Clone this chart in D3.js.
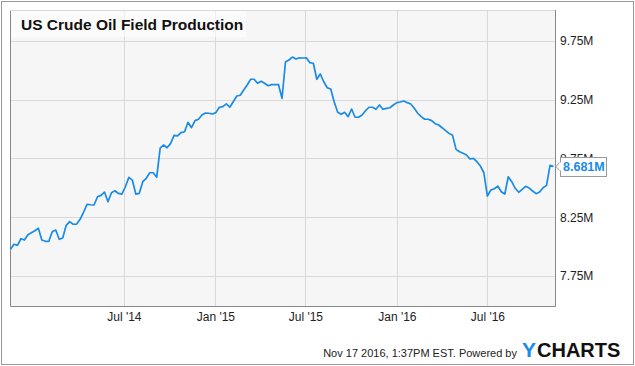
<!DOCTYPE html>
<html>
<head>
<meta charset="utf-8">
<script src="https://d3js.org/d3.v7.min.js"></script>
<style>
  body { margin: 0; background: #fff; }
  svg text { font-family: "Liberation Sans", Arial, sans-serif; }
</style>
</head>
<body>
<div id="chart"></div>
<script>

// weekly US crude oil field production (million barrels/day), week ending Fridays
var startDate = "2013-11-15";
var values = [
  7.977, 8.020, 8.011, 8.067, 8.056, 8.101, 8.118, 8.135, 8.156, 8.056,
  8.045, 8.045, 8.127, 8.141, 8.062, 8.073, 8.181, 8.212, 8.190, 8.192,
  8.232, 8.294, 8.360, 8.356, 8.354, 8.424, 8.436, 8.464, 8.382, 8.458,
  8.475, 8.452, 8.447, 8.509, 8.589, 8.566, 8.447, 8.453, 8.552, 8.581,
  8.628, 8.628, 8.589, 8.838, 8.864, 8.841, 8.878, 8.946, 8.941, 8.969,
  8.977, 9.057, 9.011, 9.071, 9.083, 9.119, 9.136, 9.134, 9.128, 9.139,
  9.185, 9.190, 9.214, 9.185, 9.232, 9.281, 9.287, 9.332, 9.374, 9.423,
  9.423, 9.389, 9.406, 9.389, 9.368, 9.377, 9.377, 9.377, 9.261, 9.570,
  9.587, 9.612, 9.595, 9.606, 9.604, 9.606, 9.564, 9.559, 9.423, 9.468,
  9.402, 9.351, 9.340, 9.230, 9.142, 9.125, 9.142, 9.105, 9.170, 9.100,
  9.100, 9.119, 9.156, 9.185, 9.185, 9.168, 9.204, 9.168, 9.176, 9.181,
  9.204, 9.224, 9.230, 9.238, 9.224, 9.213, 9.176, 9.134, 9.105, 9.083,
  9.083, 9.071, 9.045, 9.034, 9.011, 8.986, 8.963, 8.946, 8.827, 8.807,
  8.793, 8.779, 8.745, 8.751, 8.722, 8.685, 8.628, 8.430, 8.481, 8.492,
  8.515, 8.467, 8.447, 8.594, 8.552, 8.496, 8.462, 8.487, 8.513, 8.498,
  8.473, 8.450, 8.464, 8.501, 8.521, 8.691, 8.681
];
var yTicks = [7.75, 8.25, 8.75, 9.25, 9.75];
var xTicks = ["2014-07-01", "2015-01-01", "2015-07-01", "2016-01-01", "2016-07-01"];
var xDomain = ["2013-11-14", "2016-11-14"];
var title = "US Crude Oil Field Production";
var footer = "Nov 17 2016, 1:37PM EST.  Powered by";

var W = 635, H = 366;
var plot = {left: 10, top: 10, right: 555, bottom: 306};
var blue = "#1a8be6";

var parse = d3.timeParse("%Y-%m-%d");
var start = parse(startDate);
var data = values.map(function(v, i) {
  return {date: d3.timeDay.offset(start, 7 * i), value: v};
});

var svg = d3.select("#chart").append("svg")
  .attr("width", W)
  .attr("height", H);

// outer frame
svg.append("rect")
  .attr("x", 1.5).attr("y", 1.5)
  .attr("width", W - 3).attr("height", H - 3)
  .attr("fill", "#fff")
  .attr("stroke", "#999");

var x = d3.scaleTime()
  .domain(xDomain.map(parse))
  .range([plot.left, plot.right]);

var y = d3.scaleLinear()
  .domain([7.495, 10.012])
  .range([plot.bottom, plot.top]);

// plot background
svg.append("rect")
  .attr("x", plot.left).attr("y", plot.top)
  .attr("width", plot.right - plot.left)
  .attr("height", plot.bottom - plot.top)
  .attr("fill", "#f6f6f6");

// grid
svg.append("g").selectAll("line")
  .data(yTicks)
  .enter().append("line")
    .attr("x1", plot.left).attr("x2", plot.right)
    .attr("y1", function(d) { return Math.round(y(d)) + 0.5; })
    .attr("y2", function(d) { return Math.round(y(d)) + 0.5; })
    .attr("stroke", "#d9d9d9");

svg.append("g").selectAll("line")
  .data(xTicks.map(parse))
  .enter().append("line")
    .attr("x1", function(d) { return Math.round(x(d)) + 0.5; })
    .attr("x2", function(d) { return Math.round(x(d)) + 0.5; })
    .attr("y1", plot.top).attr("y2", plot.bottom)
    .attr("stroke", "#d9d9d9");

// title box
svg.append("rect")
  .attr("x", plot.left + 1).attr("y", plot.top + 1)
  .attr("width", 235).attr("height", 26)
  .attr("fill", "#fff")
  .attr("fill-opacity", 0.55);

svg.append("text")
  .attr("x", 21).attr("y", 29.5)
  .style("font-size", "15.5px")
  .style("font-weight", "bold")
  .attr("fill", "#111")
  .text(title);

// plot border
svg.append("path")
  .attr("d", "M" + (plot.left + 0.5) + "," + plot.top + "V" + (plot.bottom + 0.5) +
             "H" + (plot.right + 0.5) + "V" + plot.top)
  .attr("fill", "none")
  .attr("stroke", "#888");
svg.append("line")
  .attr("x1", plot.left).attr("x2", plot.right)
  .attr("y1", plot.top + 0.5).attr("y2", plot.top + 0.5)
  .attr("stroke", "#d9d9d9");

// line
svg.append("path")
  .datum(data)
  .attr("fill", "none")
  .attr("stroke", blue)
  .attr("stroke-width", 1.7)
  .attr("stroke-linejoin", "round")
  .attr("d", d3.line()
    .x(function(d) { return x(d.date); })
    .y(function(d) { return y(d.value); }));

// right axis
var yAxis = svg.append("g")
  .attr("transform", "translate(" + plot.right + ",0)")
  .call(d3.axisRight(y).tickValues(yTicks).tickSize(0).tickPadding(5)
    .tickFormat(function(d) { return d3.format(".2f")(d) + "M"; }));
yAxis.select(".domain").remove();
yAxis.selectAll("text")
  .style("font-size", "12px")
  .attr("fill", "#222");

// bottom axis
var xAxis = svg.append("g")
  .attr("transform", "translate(0," + plot.bottom + ")")
  .call(d3.axisBottom(x).tickValues(xTicks.map(parse)).tickSize(0).tickPadding(6)
    .tickFormat(d3.timeFormat("%b '%y")));
xAxis.select(".domain").remove();
xAxis.selectAll("text")
  .style("font-size", "12px")
  .attr("fill", "#222");

// last value label (drawn over the axis label, as in the original)
var last = data[data.length - 1];
var ly = y(last.value);
var lbl = svg.append("g");
lbl.append("path")
  .attr("d", "M" + (plot.right + 5.5) + "," + (ly - 5) + "L" + (plot.right + 1) + "," + ly +
             "L" + (plot.right + 5.5) + "," + (ly + 5))
  .attr("fill", "#fff")
  .attr("stroke", "#999");
lbl.append("rect")
  .attr("x", plot.right + 5.5).attr("y", Math.round(ly) - 9.5)
  .attr("width", 46).attr("height", 19)
  .attr("fill", "#fff")
  .attr("stroke", "#999");
lbl.append("rect")
  .attr("x", plot.right + 4).attr("y", ly - 4)
  .attr("width", 3).attr("height", 8)
  .attr("fill", "#fff");
lbl.append("text")
  .attr("x", plot.right + 8).attr("y", ly + 4.5)
  .style("font-size", "12.5px")
  .style("font-weight", "bold")
  .attr("fill", blue)
  .text(d3.format(".3f")(last.value) + "M");

// footer
svg.append("text")
  .attr("x", 517).attr("y", 357)
  .attr("text-anchor", "end")
  .style("font-size", "11px")
  .attr("fill", "#222")
  .text(footer);

// logo
svg.append("text")
  .attr("x", 522).attr("y", 357)
  .style("font-size", "21px")
  .style("font-weight", "bold")
  .attr("fill", blue)
  .text("Y");
svg.append("text")
  .attr("x", 537).attr("y", 357)
  .style("font-size", "20px")
  .style("font-weight", "bold")
  .attr("fill", "#111")
  .text("CHARTS");

</script>
</body>
</html>
